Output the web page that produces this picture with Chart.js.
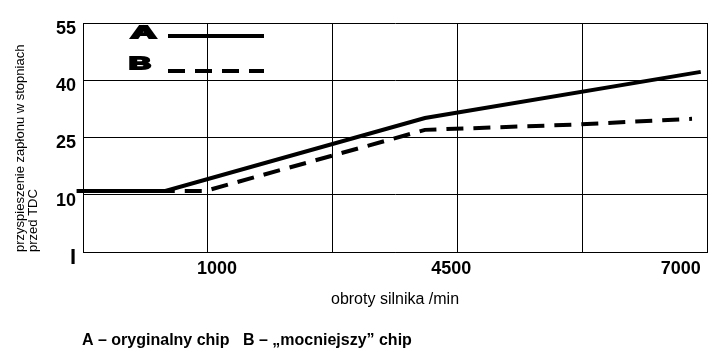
<!DOCTYPE html>
<html>
<head>
<meta charset="utf-8">
<script src="https://cdn.jsdelivr.net/npm/chart.js@4/dist/chart.umd.min.js"></script>
<style>
  html, body { margin: 0; padding: 0; background: #fff; }
  #wrap { width: 724px; height: 361px; }
</style>
</head>
<body>
<div id="wrap"><canvas id="chart" width="724" height="361"></canvas></div>
<script>
// x is in grid columns (0..5), y in degrees
const xA = [-0.05, 0.66, 2.74, 4.95];
const yA = [11, 11, 30.1, 42.2];
const xB = [-0.05, 0.98, 2.74, 3.95, 4.88];
const yB = [11, 11, 27.0, 28.4, 29.9];

const seriesNames = ["A", "B"];
const xGrid = [0, 1, 2, 3, 4, 5];
const xTickPos = [1.074, 2.95, 4.79];
const xTickLabels = ["1000", "4500", "7000"];
const yTicks = [-5, 10, 25, 40, 55];

const yTitle = ["przyspieszenie zapłonu w stopniach", "przed TDC"];
const xTitle = "obroty silnika /min";
const caption = "A – oryginalny chip   B – „mocniejszy” chip";

const FONT = '"Liberation Sans", Arial, sans-serif';

const toPoints = (xs, ys) => xs.map((x, i) => ({ x: x, y: ys[i] }));

const extras = {
  id: "extras",
  afterDraw(chart) {
    const c = chart.ctx;
    c.save();
    c.fillStyle = "#000";
    c.strokeStyle = "#000";
    c.textBaseline = "alphabetic";

    const rows = [
      { y: 36, x: 131, base: 38, w: 25, size: 17 },
      { y: 71, x: 129, base: 69, w: 22, size: 17 }
    ];
    chart.data.datasets.forEach((ds, i) => {
      const r = rows[i];
      c.font = "bold " + r.size + "px " + FONT;
      const m = c.measureText(seriesNames[i]).width;
      c.save();
      c.translate(r.x, r.base);
      c.scale(r.w / m, 1);
      c.lineWidth = 2;
      c.lineJoin = "miter";
      c.fillText(seriesNames[i], 0, 0);
      c.strokeText(seriesNames[i], 0, 0);
      c.restore();

      c.lineWidth = ds.borderWidth;
      c.setLineDash(ds.borderDash || []);
      c.beginPath();
      c.moveTo(168, r.y);
      c.lineTo(264, r.y);
      c.stroke();
    });
    c.setLineDash([]);

    c.font = "bold 16px " + FONT;
    c.fillText(caption, 82, 345);
    c.restore();
  }
};

new Chart(document.getElementById("chart"), {
  type: "line",
  data: {
    datasets: [
      {
        label: seriesNames[0],
        data: toPoints(xA, yA),
        borderColor: "#000",
        borderWidth: 4,
        pointRadius: 0,
        tension: 0,
        clip: false
      },
      {
        label: seriesNames[1],
        data: toPoints(xB, yB),
        borderColor: "#000",
        borderWidth: 4,
        borderDash: [17, 10],
        pointRadius: 0,
        tension: 0,
        clip: false
      }
    ]
  },
  options: {
    responsive: false,
    animation: false,
    layout: { padding: { top: 23, right: 17, bottom: 49, left: 0 } },
    plugins: {
      legend: { display: false },
      tooltip: { enabled: false }
    },
    scales: {
      x: {
        type: "linear",
        min: 0,
        max: 5,
        afterBuildTicks(scale) {
          scale.ticks = xGrid.concat(xTickPos).sort((a, b) => a - b).map(v => ({ value: v }));
        },
        afterFit(scale) {
          scale.height = 60;
          scale.paddingLeft = 0;
          scale.paddingRight = 0;
        },
        grid: {
          drawTicks: false,
          lineWidth: 1,
          color: ctx => (ctx.tick && xTickPos.includes(ctx.tick.value)) ? "rgba(0,0,0,0)" : "#000"
        },
        border: { display: true, color: "#000", width: 1 },
        ticks: {
          autoSkip: false,
          maxRotation: 0,
          padding: 6,
          color: "#000",
          font: { family: FONT, size: 18, weight: "bold" },
          callback: value => {
            const i = xTickPos.indexOf(value);
            return i >= 0 ? xTickLabels[i] : "";
          }
        },
        title: {
          display: true,
          text: xTitle,
          color: "#000",
          font: { family: FONT, size: 16 },
          padding: { top: 0, bottom: 3 }
        }
      },
      y: {
        min: -5,
        max: 55,
        afterBuildTicks(scale) {
          scale.ticks = yTicks.map(v => ({ value: v }));
        },
        afterFit(scale) {
          scale.width = 83;
          scale.paddingTop = 0;
          scale.paddingBottom = 0;
        },
        grid: { drawTicks: false, lineWidth: 1, color: "#000" },
        border: { display: true, color: "#000", width: 1 },
        ticks: {
          padding: 7,
          labelOffset: 6,
          color: "#000",
          font: ctx => (ctx.tick && ctx.tick.value === -5)
            ? { family: FONT, size: 22, weight: "bold" }
            : { family: FONT, size: 18, weight: "bold" },
          callback: value => value === -5 ? "I" : String(value)
        },
        title: {
          display: true,
          text: yTitle,
          align: "start",
          color: "#000",
          font: { family: FONT, size: 13, lineHeight: 1 },
          padding: { top: 14, bottom: 0 }
        }
      }
    }
  },
  plugins: [extras]
});
</script>
</body>
</html>
